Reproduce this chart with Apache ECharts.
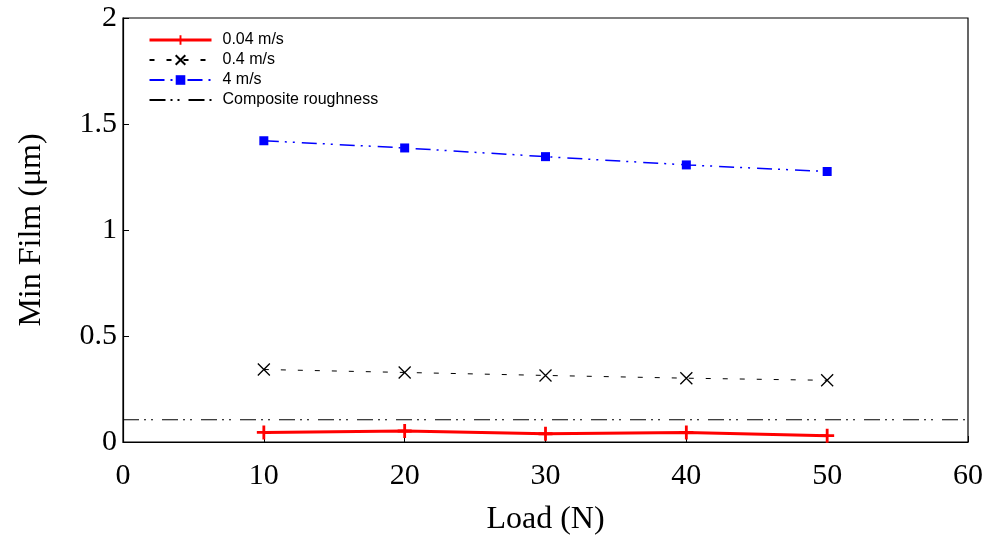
<!DOCTYPE html>
<html>
<head>
<meta charset="utf-8">
<script src="https://cdn.jsdelivr.net/npm/echarts@6/dist/echarts.min.js"></script>
<style>
  html, body { margin: 0; padding: 0; background: #fff; }
  #chart { width: 993px; height: 535px; }
</style>
</head>
<body>
<div id="chart"></div>
<script>
const loads = [10, 20, 30, 40, 50]
const film004 = [0.045, 0.052, 0.039, 0.045, 0.030]
const film04 = [0.342, 0.328, 0.314, 0.301, 0.291]
const film4 = [1.421, 1.387, 1.346, 1.307, 1.276]
const roughnessX = [0, 60]
const roughnessY = [0.105, 0.105]
const xTicks = { min: 0, max: 60, interval: 10 }
const yTicks = { min: 0, max: 2, interval: 0.5 }

const pair = (xs, ys) => xs.map((x, i) => [x, ys[i]])

const plusPath = 'path://M4,0 H6 V4 H10 V6 H6 V10 H4 V6 H0 V4 H4 Z'
const crossPath = 'path://M0,0 L10,10 M10,0 L0,10'

const serif = 'Liberation Serif'
const chart = echarts.init(document.getElementById('chart'))

chart.setOption({
  animation: false,
  backgroundColor: '#fff',
  grid: {
    left: 123, right: 25, top: 18, bottom: 93,
    outerBoundsMode: 'none',
    show: true, borderColor: '#000', borderWidth: 1.2
  },
  legend: {
    orient: 'vertical',
    left: 143,
    top: 27,
    itemWidth: 62,
    itemHeight: 12,
    itemGap: 4,
    textStyle: { fontFamily: 'Liberation Sans', fontSize: 16, color: '#000', padding: [0, 0, 0, 6] },
    data: [
      { name: '0.04 m/s', lineStyle: { width: 3 } },
      '0.4 m/s',
      '4 m/s',
      'Composite roughness'
    ]
  },
  xAxis: {
    type: 'value',
    min: xTicks.min, max: xTicks.max, interval: xTicks.interval,
    name: 'Load (N)',
    nameLocation: 'middle',
    nameGap: 62,
    nameTextStyle: { fontFamily: serif, fontSize: 32, color: '#000' },
    axisLine: { show: true, lineStyle: { color: '#000', width: 1.2 } },
    axisTick: { show: true, inside: true, length: 6, lineStyle: { color: '#000' } },
    axisLabel: { fontFamily: serif, fontSize: 30, color: '#000', margin: 19 },
    splitLine: { show: false }
  },
  yAxis: {
    type: 'value',
    min: yTicks.min, max: yTicks.max, interval: yTicks.interval,
    name: 'Min Film (μm)',
    nameLocation: 'middle',
    nameGap: 75,
    nameTextStyle: { fontFamily: serif, fontSize: 32, color: '#000' },
    axisLine: { show: true, lineStyle: { color: '#000', width: 1.2 } },
    axisTick: { show: true, inside: true, length: 6, lineStyle: { color: '#000' } },
    axisLabel: { fontFamily: serif, fontSize: 30, color: '#000', margin: 6 },
    splitLine: { show: false }
  },
  series: [
    {
      name: '0.04 m/s',
      type: 'line',
      data: pair(loads, film004),
      symbol: plusPath,
      symbolSize: 14,
      lineStyle: { color: '#ff0000', width: 3 },
      itemStyle: { color: '#ff0000' },
      z: 5
    },
    {
      name: '0.4 m/s',
      type: 'line',
      data: pair(loads, film04),
      symbol: crossPath,
      symbolSize: 12,
      lineStyle: { color: '#000', width: 1, type: [5, 12] },
      itemStyle: { color: '#000', borderColor: '#000', borderWidth: 1.3 }
    },
    {
      name: '4 m/s',
      type: 'line',
      data: pair(loads, film4),
      symbol: 'rect',
      symbolSize: 9,
      lineStyle: { color: '#0000ff', width: 1.5, type: [15, 6, 2, 6, 2, 7] },
      itemStyle: { color: '#0000ff' }
    },
    {
      name: 'Composite roughness',
      type: 'line',
      data: pair(roughnessX, roughnessY),
      symbol: 'circle',
      showSymbol: false,
      lineStyle: { color: '#000', width: 1.2, type: [16, 5, 2, 5, 2, 9] },
      itemStyle: { color: 'transparent', borderWidth: 0 }
    }
  ]
})
</script>
</body>
</html>
